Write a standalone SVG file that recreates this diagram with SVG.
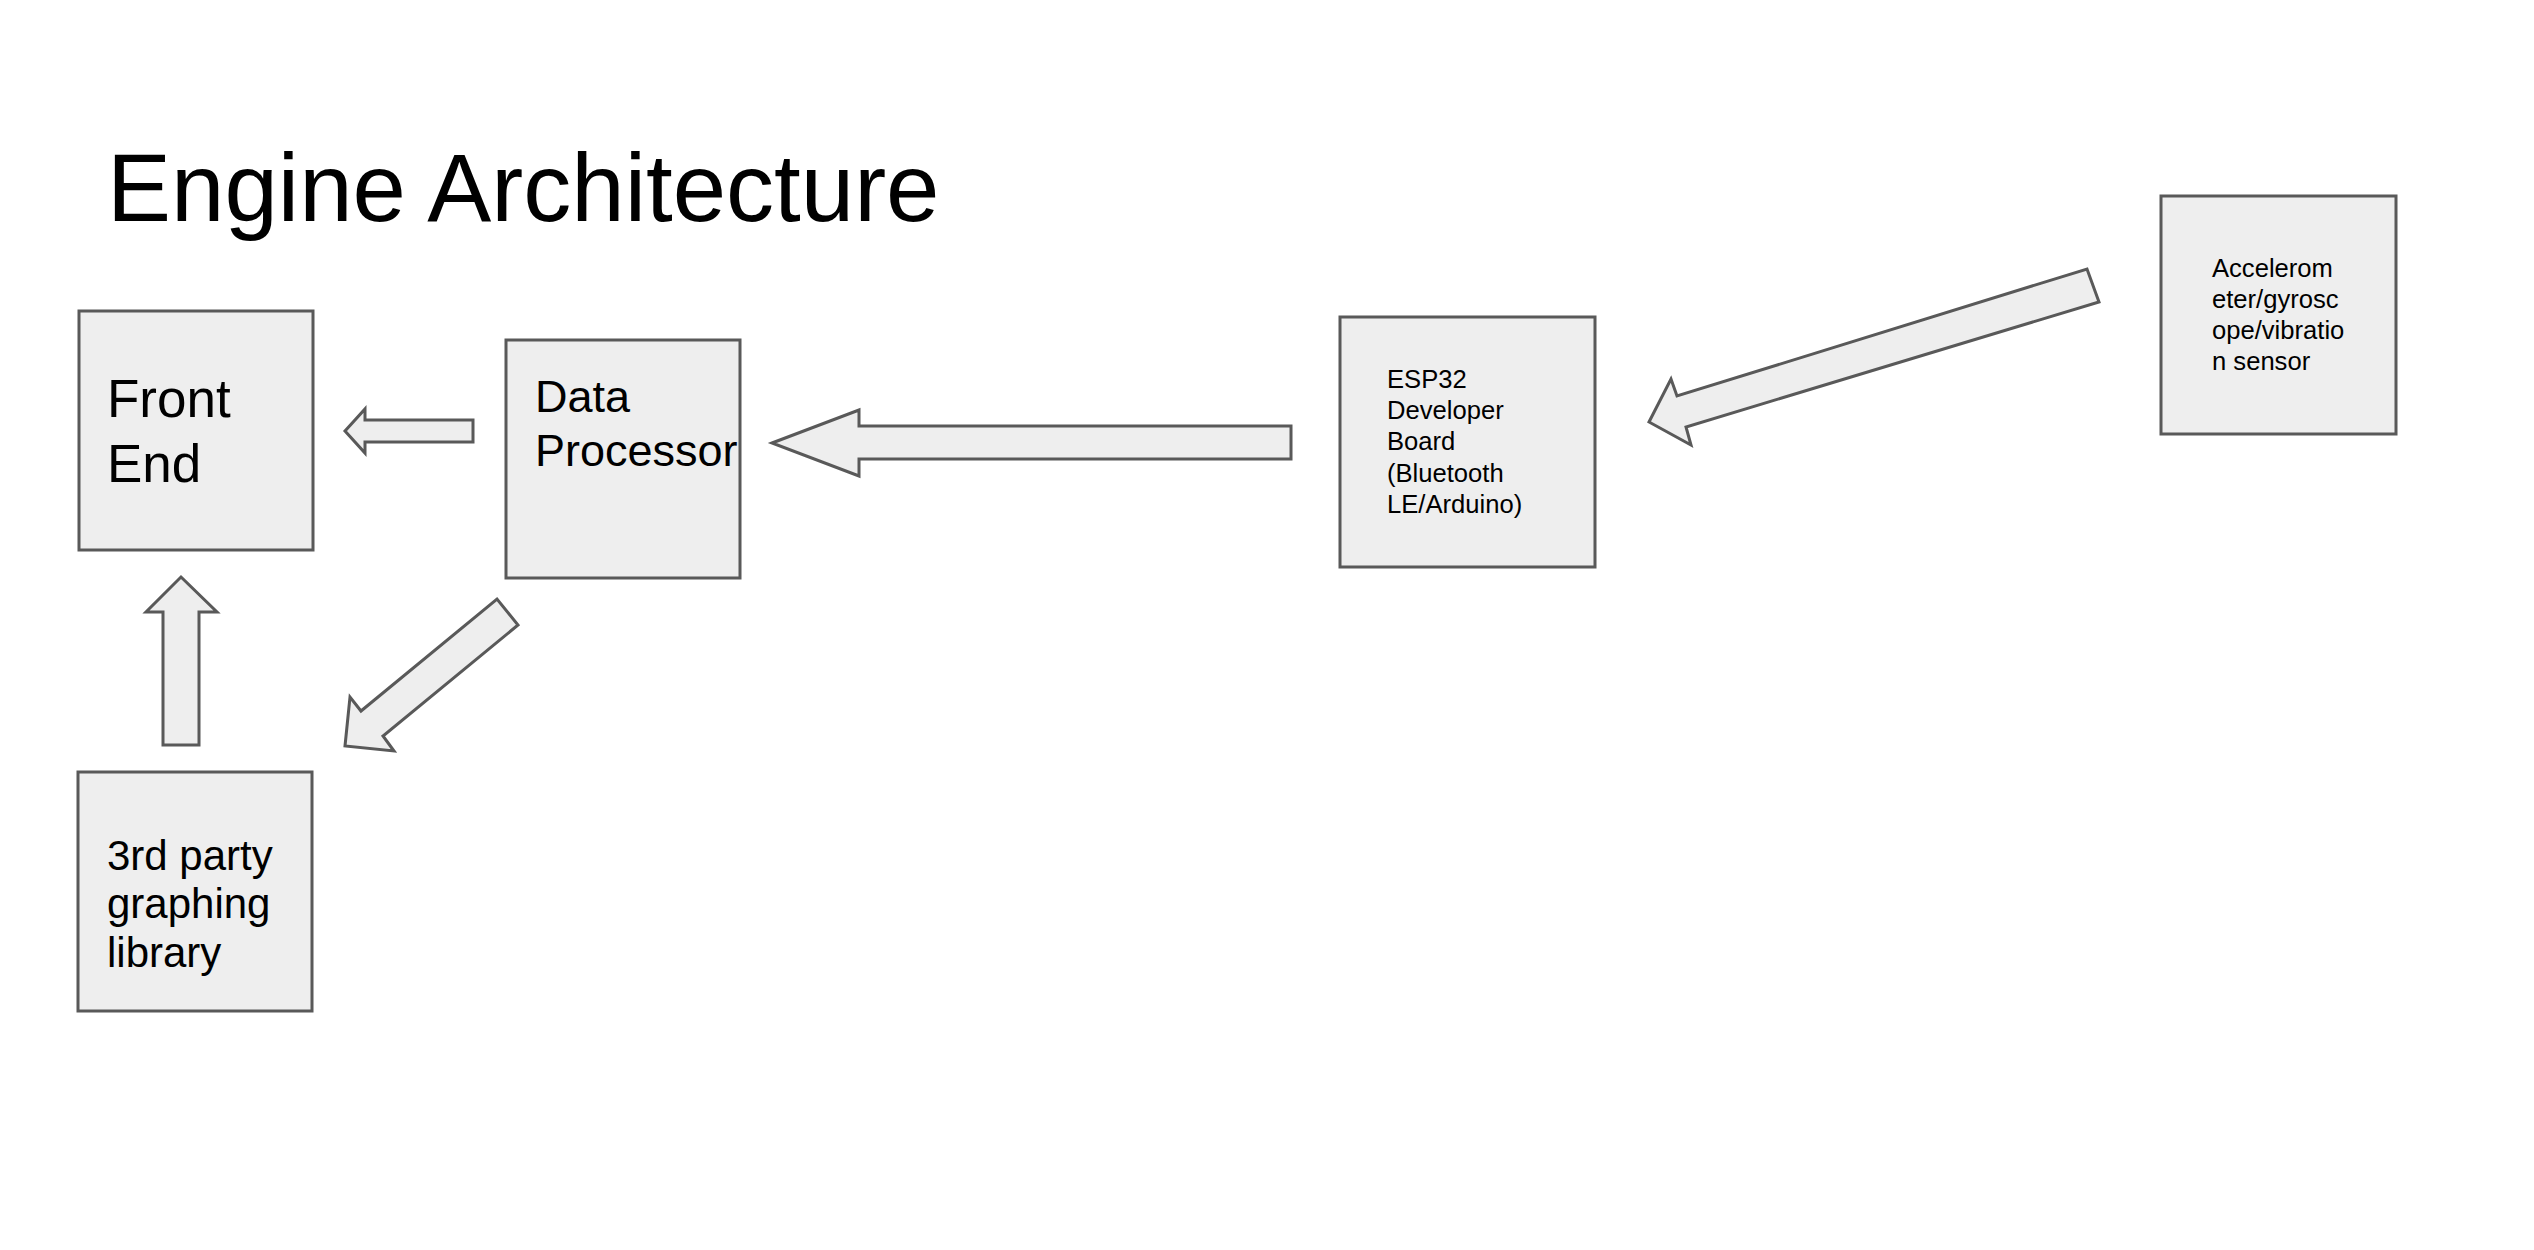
<svg xmlns="http://www.w3.org/2000/svg" width="2534" height="1250" viewBox="0 0 2534 1250">
<style>
.box{fill:#eeeeee;stroke:#595959;stroke-width:3}
.arr{fill:#eeeeee;stroke:#595959;stroke-width:3;stroke-linejoin:miter}
text{font-family:"Liberation Sans",Arial,sans-serif;fill:#000000}
</style>
<rect width="2534" height="1250" fill="#ffffff"/>
<text id="title" x="107" y="221" font-size="96">Engine Architecture</text>
<g id="front-end">
<rect class="box" x="79" y="311" width="234" height="239"/>
<text x="107" y="417" font-size="53">Front</text>
<text x="107" y="482" font-size="53">End</text>
</g>
<g id="data-processor">
<rect class="box" x="506" y="340" width="234" height="238"/>
<text x="535" y="412" font-size="45">Data</text>
<text x="535" y="466" font-size="45">Processor</text>
</g>
<g id="graphing-library">
<rect class="box" x="78" y="772" width="234" height="239"/>
<text x="107" y="870" font-size="42">3rd party</text>
<text x="107" y="918" font-size="42">graphing</text>
<text x="107" y="967" font-size="42">library</text>
</g>
<g id="esp32">
<rect class="box" x="1340" y="317" width="255" height="250"/>
<text x="1387" y="388" font-size="25.6">ESP32</text>
<text x="1387" y="419" font-size="25.6">Developer</text>
<text x="1387" y="450" font-size="25.6">Board</text>
<text x="1387" y="482" font-size="25.6">(Bluetooth</text>
<text x="1387" y="513" font-size="25.6">LE/Arduino)</text>
</g>
<g id="sensor">
<rect class="box" x="2161" y="196" width="235" height="238"/>
<text x="2212" y="277" font-size="25.6">Accelerom</text>
<text x="2212" y="308" font-size="25.6">eter/gyrosc</text>
<text x="2212" y="339" font-size="25.6">ope/vibratio</text>
<text x="2212" y="370" font-size="25.6">n sensor</text>
</g>
<g id="connectors">
<polygon class="arr" points="345,431 365,409 365,420 473,420 473,442 365,442 365,453"/>
<polygon class="arr" points="772,443 859,410 859,426 1291,426 1291,459 859,459 859,476"/>
<polygon class="arr" points="1649,422 1671,379 1677,396 2087,269 2099,302 1686,427 1691,445"/>
<polygon class="arr" points="345,746 350,697 361,711 497,599 518,625 383,736 394,751"/>
<polygon class="arr" points="181,577 217,612 199,612 199,745 163,745 163,612 146,612"/>
</g>
</svg>
